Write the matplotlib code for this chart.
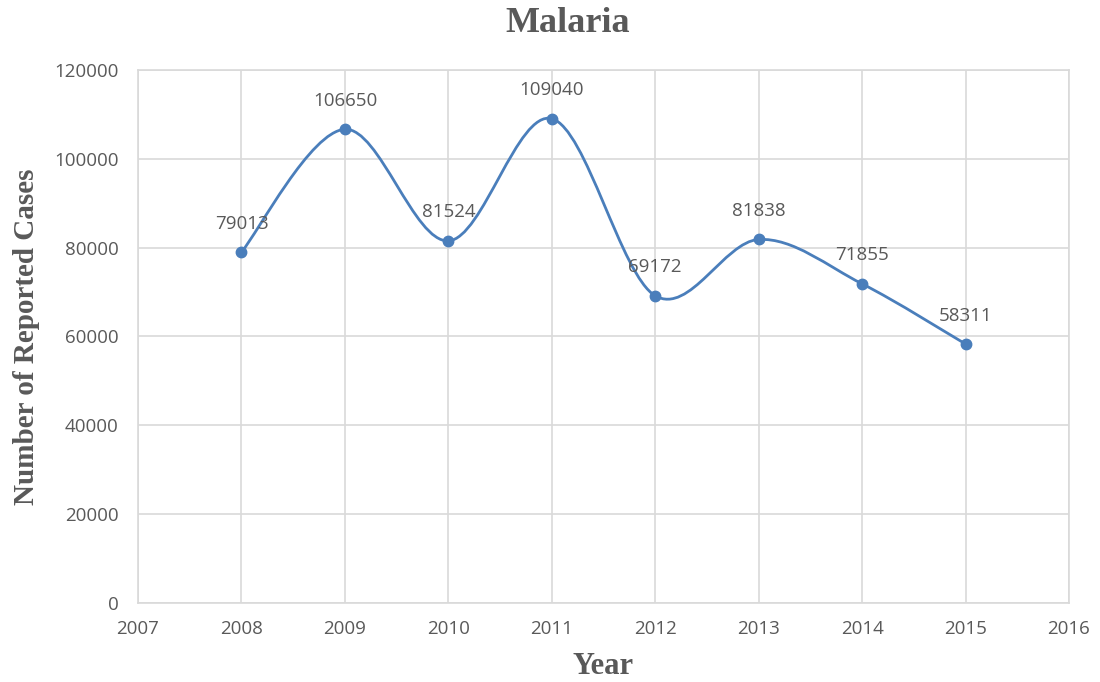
import matplotlib
matplotlib.use("Agg")
import matplotlib.pyplot as plt
from matplotlib.path import Path
from matplotlib.patches import PathPatch

# 연도별 말라리아 보고 건수
years = [2008, 2009, 2010, 2011, 2012, 2013, 2014, 2015]
cases = [79013, 106650, 81524, 109040, 69172, 81838, 71855, 58311]

x_ticks = [2007, 2008, 2009, 2010, 2011, 2012, 2013, 2014, 2015, 2016]
y_ticks = [0, 20000, 40000, 60000, 80000, 100000, 120000]

LINE_COLOR = "#4a7ebb"
TEXT_COLOR = "#595959"
GRID_COLOR = "#d9d9d9"
TICK_FONT = ["Open Sans", "DejaVu Sans"]
SERIF_FONT = ["Liberation Serif", "DejaVu Serif"]


def smooth_path(xs, ys):
    """엑셀식 부드러운 선: Catmull-Rom 제어점으로 만든 베지어 경로"""
    pts = list(zip(xs, ys))
    verts = [pts[0]]
    codes = [Path.MOVETO]
    n = len(pts)
    for i in range(n - 1):
        p0 = pts[i - 1] if i > 0 else pts[i]
        p1 = pts[i]
        p2 = pts[i + 1]
        p3 = pts[i + 2] if i + 2 < n else pts[i + 1]
        c1 = (p1[0] + (p2[0] - p0[0]) / 6, p1[1] + (p2[1] - p0[1]) / 6)
        c2 = (p2[0] - (p3[0] - p1[0]) / 6, p2[1] - (p3[1] - p1[1]) / 6)
        verts += [c1, c2, p2]
        codes += [Path.CURVE4] * 3
    return Path(verts, codes)


fig = plt.figure(figsize=(11, 6.82), dpi=100)
ax = fig.add_axes([0.1255, 0.1158, 0.8463, 0.7816])

ax.add_patch(PathPatch(smooth_path(years, cases), facecolor="none",
                       edgecolor=LINE_COLOR, linewidth=2.0, zorder=3))
ax.plot(years, cases, "o", color=LINE_COLOR, markersize=7.5, zorder=4)

for x, y in zip(years, cases):
    ax.annotate(str(y), (x, y), xytext=(0, 14), textcoords="offset points",
                ha="center", va="bottom", fontsize=13.5, color=TEXT_COLOR,
                family=TICK_FONT)

ax.set_xlim(2007, 2016)
ax.set_ylim(0, 120000)
ax.set_xticks(x_ticks)
ax.set_yticks(y_ticks)
ax.set_xticklabels([str(t) for t in x_ticks], family=TICK_FONT)
ax.set_yticklabels([str(t) for t in y_ticks], family=TICK_FONT)
ax.tick_params(length=0, labelsize=13.5, labelcolor=TEXT_COLOR)
ax.tick_params(axis="x", pad=12)
ax.tick_params(axis="y", pad=14)
ax.grid(True, color=GRID_COLOR, linewidth=1.2)
ax.set_axisbelow(True)
for side in ax.spines.values():
    side.set_color(GRID_COLOR)
    side.set_linewidth(1.2)

ax.set_xlabel("Year", family=SERIF_FONT, fontweight="bold", fontsize=22,
              color=TEXT_COLOR, labelpad=10)
ax.set_ylabel("Number of Reported Cases", family=SERIF_FONT, fontweight="bold",
              fontsize=21, color=TEXT_COLOR, labelpad=10)
fig.suptitle("Malaria", family=SERIF_FONT, fontweight="bold", fontsize=26,
             color=TEXT_COLOR, x=0.516, y=0.99)

fig.savefig("out.png", dpi=100)
